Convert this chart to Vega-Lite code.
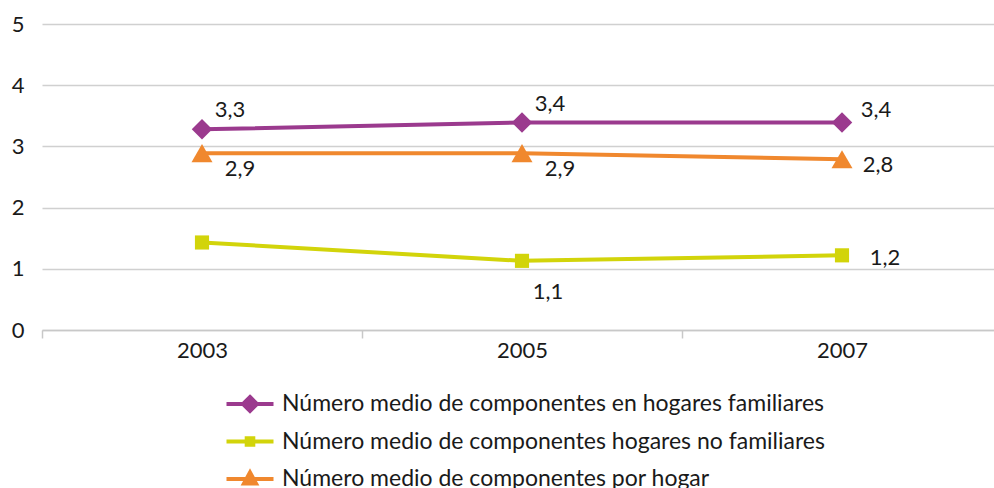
{
  "$schema": "https://vega.github.io/schema/vega-lite/v6.json",
  "width": 952,
  "height": 306,
  "autosize": {"type": "none"},
  "padding": {"left": 42, "top": 24, "right": 0, "bottom": 158},
  "background": "white",
  "config": {"font": "Lato", "view": {"stroke": null}},
  "data": {
    "values": [
      {"year": "2003", "series": "Número medio de componentes en hogares familiares", "value": 3.28, "label": "3,3"},
      {"year": "2005", "series": "Número medio de componentes en hogares familiares", "value": 3.39, "label": "3,4"},
      {"year": "2007", "series": "Número medio de componentes en hogares familiares", "value": 3.39, "label": "3,4"},
      {"year": "2003", "series": "Número medio de componentes hogares no familiares", "value": 1.43, "label": ""},
      {"year": "2005", "series": "Número medio de componentes hogares no familiares", "value": 1.13, "label": "1,1"},
      {"year": "2007", "series": "Número medio de componentes hogares no familiares", "value": 1.22, "label": "1,2"},
      {"year": "2003", "series": "Número medio de componentes por hogar", "value": 2.89, "label": "2,9"},
      {"year": "2005", "series": "Número medio de componentes por hogar", "value": 2.89, "label": "2,9"},
      {"year": "2007", "series": "Número medio de componentes por hogar", "value": 2.79, "label": "2,8"}
    ]
  },
  "encoding": {
    "x": {
      "field": "year", "type": "ordinal", "bandPosition": 0.5,
      "scale": {"type": "band", "paddingInner": 0, "paddingOuter": 0, "range": [0, 960]},
      "axis": {"title": null, "labelAngle": 0, "labelFontSize": 22, "labelColor": "#1a1a1a", "labelPadding": 2,
        "domainColor": "#c8c8c8", "domainWidth": 1.5, "tickColor": "#c8c8c8", "tickWidth": 1.5, "tickSize": 8,
        "tickBand": "extent", "grid": false}
    },
    "y": {
      "field": "value", "type": "quantitative",
      "scale": {"domain": [0, 5], "nice": false},
      "axis": {"title": null, "values": [0, 1, 2, 3, 4, 5], "domain": false, "ticks": false, "gridColor": "#d0d0d0",
        "gridWidth": 1.5, "labelFontSize": 22, "labelColor": "#1a1a1a", "labelPadding": 18, "format": "d"}
    },
    "color": {
      "field": "series", "type": "nominal",
      "scale": {"domain": ["Número medio de componentes en hogares familiares", "Número medio de componentes hogares no familiares", "Número medio de componentes por hogar"],
        "range": ["#9b3a8e", "#d2d40a", "#f0882e"]},
      "legend": {
        "orient": "none", "legendX": 196, "legendY": 368, "direction": "vertical", "title": null,
        "labelFontSize": 23, "labelColor": "#1a1a1a", "labelFont": "Lato", "labelOffset": 20, "rowPadding": 10.5,
        "padding": 0, "labelLimit": 900, "symbolSize": 400,
        "encode": {
          "symbols": {
            "update": {
              "shape": {"signal": "datum.value === 'Número medio de componentes en hogares familiares' ? 'M-2.35,0H2.35M0,-0.7L0.7,0L0,0.7L-0.7,0Z' : (datum.value === 'Número medio de componentes hogares no familiares' ? 'M-2.35,0H2.35M-0.33,-0.33H0.33V0.33H-0.33Z' : 'M-2.35,0H2.35M0,-0.65L0.6,0.45L-0.6,0.45Z')"},
              "fill": {"scale": "color", "field": "value"},
              "stroke": {"scale": "color", "field": "value"},
              "strokeWidth": {"value": 4},
              "opacity": {"value": 1},
              "size": {"value": 400}
            }
          }
        }
      }
    }
  },
  "layer": [
    {"mark": {"type": "line", "strokeWidth": 4}},
    {
      "transform": [{"filter": {"field": "series", "equal": "Número medio de componentes en hogares familiares"}}],
      "mark": {"type": "point", "filled": true, "opacity": 1, "shape": "diamond", "size": 420}
    },
    {
      "transform": [{"filter": {"field": "series", "equal": "Número medio de componentes hogares no familiares"}}],
      "mark": {"type": "point", "filled": true, "opacity": 1, "shape": "square", "size": 200}
    },
    {
      "transform": [{"filter": {"field": "series", "equal": "Número medio de componentes por hogar"}}],
      "mark": {"type": "point", "filled": true, "opacity": 1, "shape": "triangle-up", "size": 441}
    },
    {
      "transform": [{"filter": {"and": [{"field": "series", "equal": "Número medio de componentes en hogares familiares"}, {"field": "year", "oneOf": ["2003", "2005"]}]}}],
      "mark": {"type": "text", "dx": 28, "dy": -19, "fontSize": 22, "color": "#1a1a1a"},
      "encoding": {"text": {"field": "label"}, "color": {"value": "#1a1a1a"}}
    },
    {
      "transform": [{"filter": {"and": [{"field": "series", "equal": "Número medio de componentes en hogares familiares"}, {"field": "year", "equal": "2007"}]}}],
      "mark": {"type": "text", "dx": 34, "dy": -13, "fontSize": 22, "color": "#1a1a1a"},
      "encoding": {"text": {"field": "label"}, "color": {"value": "#1a1a1a"}}
    },
    {
      "transform": [{"filter": {"and": [{"field": "series", "equal": "Número medio de componentes por hogar"}, {"field": "year", "oneOf": ["2003", "2005"]}]}}],
      "mark": {"type": "text", "dx": 38, "dy": 16, "fontSize": 22, "color": "#1a1a1a"},
      "encoding": {"text": {"field": "label"}, "color": {"value": "#1a1a1a"}}
    },
    {
      "transform": [{"filter": {"and": [{"field": "series", "equal": "Número medio de componentes por hogar"}, {"field": "year", "equal": "2007"}]}}],
      "mark": {"type": "text", "dx": 36, "dy": 6, "fontSize": 22, "color": "#1a1a1a"},
      "encoding": {"text": {"field": "label"}, "color": {"value": "#1a1a1a"}}
    },
    {
      "transform": [{"filter": {"and": [{"field": "series", "equal": "Número medio de componentes hogares no familiares"}, {"field": "year", "equal": "2005"}]}}],
      "mark": {"type": "text", "dx": 26, "dy": 31, "fontSize": 22, "color": "#1a1a1a"},
      "encoding": {"text": {"field": "label"}, "color": {"value": "#1a1a1a"}}
    },
    {
      "transform": [{"filter": {"and": [{"field": "series", "equal": "Número medio de componentes hogares no familiares"}, {"field": "year", "equal": "2007"}]}}],
      "mark": {"type": "text", "dx": 43, "dy": 3, "fontSize": 22, "color": "#1a1a1a"},
      "encoding": {"text": {"field": "label"}, "color": {"value": "#1a1a1a"}}
    }
  ]
}
